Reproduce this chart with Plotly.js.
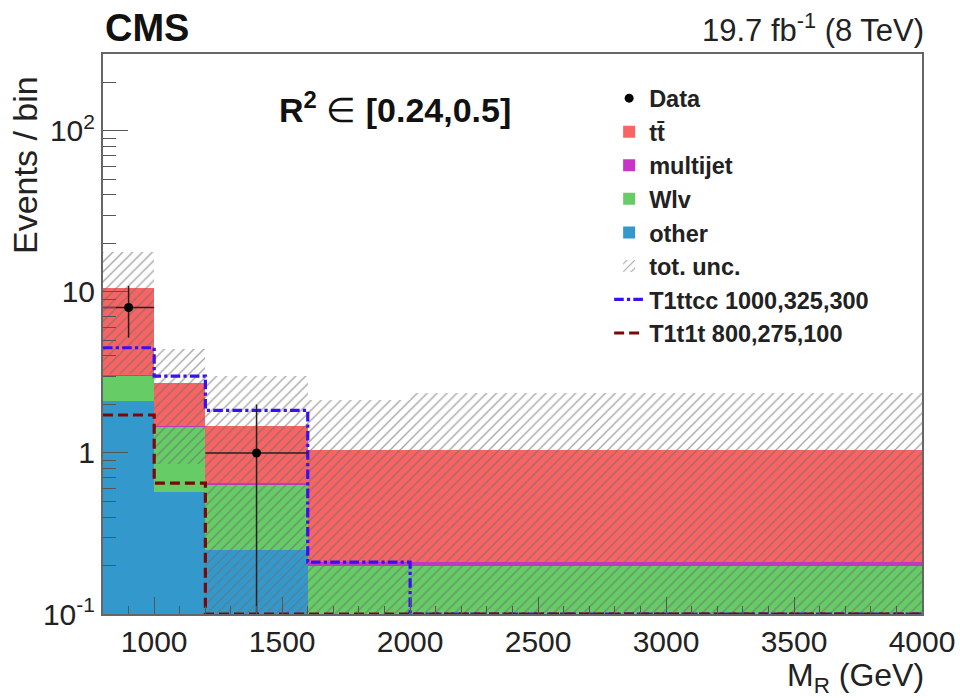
<!DOCTYPE html>
<html>
<head>
<meta charset="utf-8">
<script src="https://cdn.plot.ly/plotly-3.0.1.min.js"></script>
<style>html,body{margin:0;padding:0;background:#fff;}#plot{width:960px;height:698px;}</style>
</head>
<body>
<div id="plot"></div>
<script>
// Bin edges in M_R (GeV)
const binEdges = [800, 1000, 1200, 1600, 2000, 4000];
// Background stack components (events / bin)
const otherVals    = [2.10, 0.57, 0.25, 0.0, 0.0];
const wlvVals      = [0.90, 0.88, 0.38, 0.20, 0.20];
const multijetVals = [0.03, 0.02, 0.02, 0.01, 0.01];
const ttbarVals    = [7.50, 1.25, 0.82, 0.84, 0.84];
// Total uncertainty band (lower / upper edge)
const uncLow  = [3.1, 0.86, 0.05, 0.05, 0.05];
const uncHigh = [17.7, 4.45, 3.0, 2.13, 2.34];
// Signal models
const t1ttccVals = [4.5, 3.0, 1.84, 0.21, 0.1];
const t1t1tVals  = [1.72, 0.65, 0.1, 0.1, 0.1];
// Data
const dataX = [900, 1400];
const dataY = [8, 1];
const dataErrUp = [2.9, 1.0];
const dataErrDown = [2.8, 0.99];
const dataErrX = [100, 200];
// Tick labels
const yTickVals = [0.1, 1, 10, 100];
const yTickText = ['10<sup>-1</sup>', '1', '10', '10<sup>2</sup>'];

const centers = binEdges.slice(0, -1).map((e, i) => (e + binEdges[i + 1]) / 2);
const widths = binEdges.slice(0, -1).map((e, i) => binEdges[i + 1] - e);
const stepY = v => v.concat([v[v.length - 1]]);

const FONT = '"Liberation Sans", Arial, Helvetica, sans-serif';

function stackBar(name, vals, color, rank) {
  return {type: 'bar', name: name, x: centers, y: vals, width: widths,
    marker: {color: color, line: {width: 0}}, legendrank: rank, hoverinfo: 'skip'};
}

const traces = [
  stackBar('other', otherVals, '#3399cc', 5),
  stackBar('Wlv', wlvVals, '#66cc66', 4),
  stackBar('multijet', multijetVals, '#c833c8', 3),
  stackBar('tt\u0304', ttbarVals, '#f86464', 2),
  {type: 'bar', name: 'tot. unc.', x: centers, width: widths,
    base: uncLow, y: uncHigh.map((h, i) => h - uncLow[i]),
    marker: {color: 'rgba(110,110,110,0.6)', line: {width: 0},
      pattern: {shape: '/', size: 7, solidity: 0.2, fillmode: 'replace'}},
    legendrank: 6, hoverinfo: 'skip'},
  {type: 'scatter', mode: 'lines', name: 'T1ttcc 1000,325,300', x: binEdges, y: stepY(t1ttccVals),
    line: {shape: 'hv', color: '#3a10f0', width: 3.2, dash: 'dashdot'}, legendrank: 7},
  {type: 'scatter', mode: 'lines', name: 'T1t1t 800,275,100', x: binEdges, y: stepY(t1t1tVals),
    line: {shape: 'hv', color: '#7a0808', width: 3.2, dash: '10px,5px'}, legendrank: 8},
  {type: 'scatter', mode: 'markers', name: 'Data', x: dataX, y: dataY,
    marker: {color: '#000', size: 9},
    error_y: {type: 'data', symmetric: false, array: dataErrUp, arrayminus: dataErrDown, color: '#222', thickness: 1.5, width: 0},
    error_x: {type: 'data', array: dataErrX, color: '#222', thickness: 1.5, width: 0},
    legendrank: 1}
];

const layout = {
  width: 960, height: 698,
  margin: {l: 103, r: 38, t: 54, b: 84},
  paper_bgcolor: '#fff', plot_bgcolor: '#fff',
  barmode: 'stack', bargap: 0,
  showlegend: true,
  legend: {x: 0.618, y: 0.96, xanchor: 'left', yanchor: 'top', bgcolor: 'rgba(0,0,0,0)',
    traceorder: 'normal', font: {family: FONT, size: 23.5, color: '#222', weight: 'bold'}},
  font: {family: FONT, color: '#222'},
  xaxis: {range: [800, 4000], type: 'linear', tickmode: 'linear', tick0: 1000, dtick: 500,
    ticks: 'inside', ticklen: 17, tickwidth: 1, tickcolor: '#555',
    minor: {dtick: 100, ticks: 'inside', ticklen: 8, tickcolor: '#555', showgrid: false},
    showgrid: false, zeroline: false, showline: true, linecolor: '#666', linewidth: 2, mirror: true,
    tickfont: {family: FONT, size: 30, color: '#222'}},
  yaxis: {type: 'log', range: [-1, Math.log10(300)], tickmode: 'array', tickvals: yTickVals, ticktext: yTickText,
    ticks: 'inside', ticklen: 25, tickwidth: 1, tickcolor: '#555',
    minor: {tickmode: 'array', tickvals: [0.2,0.3,0.4,0.5,0.6,0.7,0.8,0.9,2,3,4,5,6,7,8,9,20,30,40,50,60,70,80,90,200],
      ticks: 'inside', ticklen: 13, tickcolor: '#555', showgrid: false},
    showgrid: false, zeroline: false, showline: true, linecolor: '#666', linewidth: 2, mirror: true,
    tickfont: {family: FONT, size: 30, color: '#222'}},
  annotations: [
    {xref: 'paper', yref: 'paper', x: 0, y: 1, xanchor: 'left', yanchor: 'bottom', yshift: 3, showarrow: false,
      text: '<b>CMS</b>', font: {family: FONT, size: 38, color: '#111'}},
    {xref: 'paper', yref: 'paper', x: 1, y: 1, xanchor: 'right', yanchor: 'bottom', yshift: 4, xshift: 4, showarrow: false,
      text: '19.7 fb<sup>-1</sup> (8 TeV)', font: {family: FONT, size: 31, color: '#222'}},
    {xref: 'paper', yref: 'paper', x: 0.213, y: 0.905, xanchor: 'left', yanchor: 'middle', showarrow: false,
      text: '<b>R<sup>2</sup></b> \u2208 <b>[0.24,0.5]</b>', font: {family: FONT, size: 34, color: '#111'}},
    {xref: 'paper', yref: 'paper', x: 1, y: 0, xanchor: 'right', yanchor: 'top', yshift: -41, xshift: 4, showarrow: false,
      text: 'M<sub>R</sub> (GeV)', font: {family: FONT, size: 32, color: '#222'}},
    {xref: 'paper', yref: 'paper', x: 0, y: 1, xanchor: 'right', yanchor: 'top', xshift: -57, yshift: -20, showarrow: false,
      textangle: -90, text: 'Events / bin', font: {family: FONT, size: 34, color: '#222'}}
  ]
};

Plotly.newPlot('plot', traces, layout, {staticPlot: true});
</script>
</body>
</html>
